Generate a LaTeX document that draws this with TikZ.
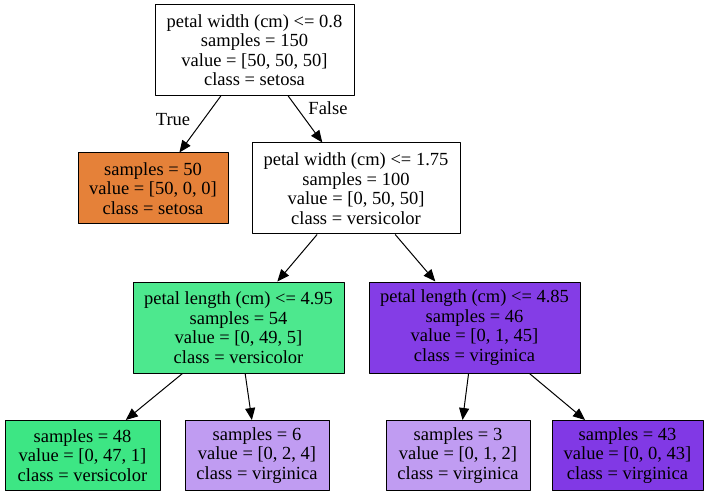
\documentclass[tikz,border=0pt]{standalone}
\usepackage{fontspec}
\setmainfont{Liberation Serif}
\usetikzlibrary{arrows.meta}
\definecolor{setosa}{HTML}{E58139}
\definecolor{versiA}{HTML}{4DE88E}
\definecolor{versiB}{HTML}{3DE684}
\definecolor{virgA}{HTML}{843DE6}
\definecolor{virgB}{HTML}{C09CF2}
\definecolor{virgC}{HTML}{8139E5}
\begin{document}
\begin{tikzpicture}[x=1pt, y=-1pt, font=\fontsize{18.5}{19.5}\selectfont, line join=round,
	box/.style={draw, line width=1pt, align=center, inner sep=0pt, minimum height=91pt},
	leaf/.style={box, minimum height=70pt},
	edge/.style={line width=1pt, -{Triangle[length=12pt, width=10pt]}}]
	\useasboundingbox (0,0) rectangle (707,497);
	
	% Cac nut cua cay
	\node[box, fill=white, minimum width=199pt] (root) at (254.5,50) {petal width (cm) <= 0.8\\samples = 150\\value = [50, 50, 50]\\class = setosa};
	\node[leaf, fill=setosa, minimum width=150pt, minimum height=71pt] (setosa) at (153,188.5) {samples = 50\\value = [50, 0, 0]\\class = setosa};
	\node[box, fill=white, minimum width=208pt] (width) at (356,188.5) {petal width (cm) <= 1.75\\samples = 100\\value = [0, 50, 50]\\class = versicolor};
	\node[box, fill=versiA, minimum width=211pt] (lenL) at (238.5,327.5) {petal length (cm) <= 4.95\\samples = 54\\value = [0, 49, 5]\\class = versicolor};
	\node[box, fill=virgA, minimum width=211pt] (lenR) at (474.5,327.5) {petal length (cm) <= 4.85\\samples = 46\\value = [0, 1, 45]\\class = virginica};
	
	% Cac la
	\node[leaf, fill=versiB, minimum width=155pt] (la) at (82.5,455.5) {samples = 48\\value = [0, 47, 1]\\class = versicolor};
	\node[leaf, fill=virgB, minimum width=144pt] (lb) at (257,455.5) {samples = 6\\value = [0, 2, 4]\\class = virginica};
	\node[leaf, fill=virgB, minimum width=144pt] (lc) at (458,455.5) {samples = 3\\value = [0, 1, 2]\\class = virginica};
	\node[leaf, fill=virgC, minimum width=151pt] (ld) at (627.5,455.5) {samples = 43\\value = [0, 0, 43]\\class = virginica};
	
	% Cac canh
	\draw[edge] (root) -- (setosa);
	\draw[edge] (root) -- (width);
	\draw[edge] (width) -- (lenL);
	\draw[edge] (width) -- (lenR);
	\draw[edge] (lenL) -- (la);
	\draw[edge] (lenL) -- (lb);
	\draw[edge] (lenR) -- (lc);
	\draw[edge] (lenR) -- (ld);
	
	% Nhan True / False
	\node (true) at (173,120) {True};
	\node (false) at (328,108) {False};
\end{tikzpicture}
\end{document}
